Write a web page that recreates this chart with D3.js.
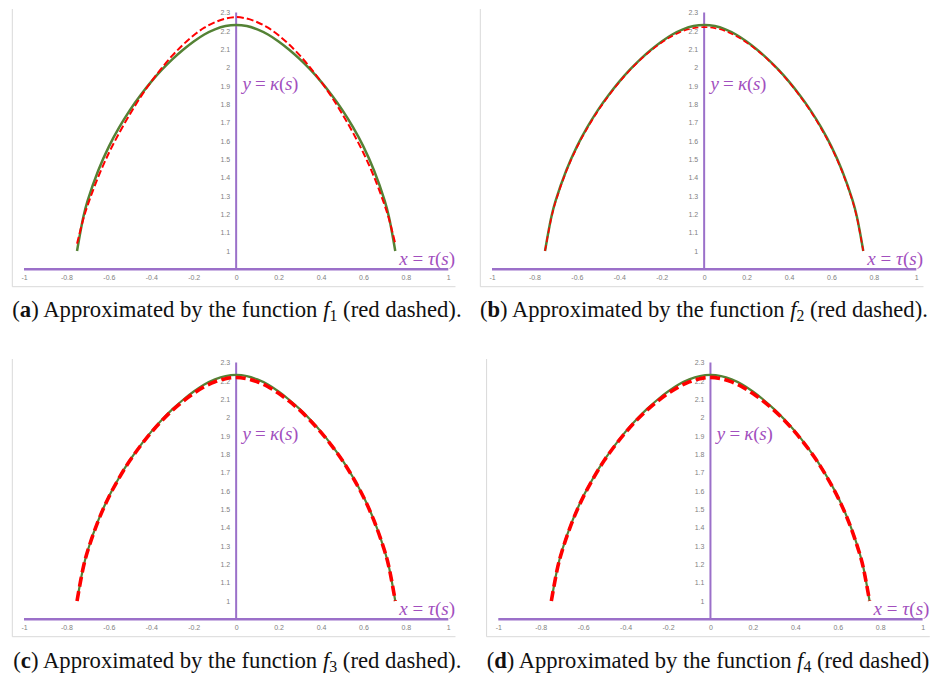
<!DOCTYPE html>
<html>
<head>
<meta charset="utf-8">
<script src="https://cdn.jsdelivr.net/npm/d3@7"></script>
<style>
  html, body { margin: 0; padding: 0; background: #fff; }
  svg { display: block; }
</style>
</head>
<body>
<svg id="fig" width="930" height="677"></svg>
<script>
// Parameter values s sampled along the curve: x = tau(s)
const tau = [-0.75,-0.72,-0.70,-0.65,-0.60,-0.55,-0.50,-0.45,-0.40,-0.35,-0.30,-0.25,-0.20,-0.15,-0.10,-0.05,0,
             0.05,0.10,0.15,0.20,0.25,0.30,0.35,0.40,0.45,0.50,0.55,0.60,0.65,0.70,0.72,0.75];

// Exact curve y = kappa(s) (green)
const kappa = [1.000,1.186,1.274,1.439,1.569,1.676,1.769,1.850,1.923,1.988,2.046,2.097,2.142,2.180,2.208,2.226,2.232,
               2.226,2.208,2.180,2.142,2.097,2.046,1.988,1.923,1.850,1.769,1.676,1.569,1.439,1.274,1.186,1.000];

// Approximations (red dashed)
const f1 = [1.040,1.176,1.249,1.404,1.534,1.646,1.747,1.840,1.923,1.998,2.066,2.125,2.176,2.217,2.247,2.267,2.275,
            2.267,2.247,2.217,2.176,2.125,2.066,1.998,1.923,1.840,1.747,1.646,1.534,1.404,1.249,1.176,1.040];
const f2 = [1.000,1.182,1.269,1.433,1.563,1.670,1.764,1.846,1.920,1.985,2.043,2.093,2.136,2.172,2.199,2.215,2.220,
            2.215,2.199,2.172,2.136,2.093,2.043,1.985,1.920,1.846,1.764,1.670,1.563,1.433,1.269,1.182,1.000];
const f3 = [1.000,1.186,1.272,1.437,1.567,1.674,1.767,1.847,1.919,1.983,2.040,2.089,2.132,2.168,2.195,2.212,2.218,
            2.212,2.195,2.168,2.132,2.089,2.040,1.983,1.919,1.847,1.767,1.674,1.567,1.437,1.272,1.186,1.000];
const f4 = [1.000,1.184,1.270,1.436,1.566,1.673,1.767,1.847,1.919,1.983,2.039,2.088,2.131,2.167,2.194,2.212,2.219,
            2.212,2.194,2.167,2.131,2.088,2.039,1.983,1.919,1.847,1.767,1.673,1.566,1.436,1.270,1.184,1.000];

// Axis ticks
const xTicks = [-1,-0.8,-0.6,-0.4,-0.2,0,0.2,0.4,0.6,0.8,1];
const xTickLabels = ["-1","-0.8","-0.6","-0.4","-0.2","0","0.2","0.4","0.6","0.8","1"];
const yTicks = [1,1.1,1.2,1.3,1.4,1.5,1.6,1.7,1.8,1.9,2,2.1,2.2,2.3];
const yTickLabels = ["1","1.1","1.2","1.3","1.4","1.5","1.6","1.7","1.8","1.9","2","2.1","2.2","2.3"];

// Sub-figure letters and approximating functions
const panelLetters = ["a","b","c","d"];
const panelSeries = [f1, f2, f3, f4];
const panelIndex = ["1","2","3","4"];

// Layout and styling of each sub-figure
const layout = [
  {dx: 0,     dy: 0,   capX: 12.3,  capW: 449.5, capY: 316.5, end: ".",  red: {w: 2.0, dash: "7,3"}},
  {dx: 468,   dy: 0,   capX: 480,   capW: 448,   capY: 316.5, end: ".",  red: {w: 1.6, dash: "6,3"}},
  {dx: 0,     dy: 350, capX: 13.3,  capW: 448.3, capY: 667.5, end: ".",  red: {w: 3.6, dash: "10,4.5"}},
  {dx: 474.3, dy: 350, capX: 486.7, capW: 442.8, capY: 667.5, end: "",   red: {w: 3.6, dash: "10,4.5"}}
];

const AXIS = "#9b70c9";
const LABEL = "#a24fbe";
const GREEN = "#548235";
const RED = "#ff0000";
const TICK = "#7f7f7f";

const svg = d3.select("#fig");
svg.append("rect").attr("width", 930).attr("height", 677).attr("fill", "#fff");

const x = d3.scaleLinear().domain([-1, 1]).range([24, 448.3]);
const y = d3.scaleLinear().domain([0.9, 2.3]).range([269.3, 12.5]);

const line = d3.line()
  .x((d, i) => x(tau[i]))
  .y(d => y(d))
  .curve(d3.curveCatmullRom.alpha(0.5));

function fitWidth(sel, target) {
  const w = sel.node().getBBox().width;
  const f = parseFloat(sel.attr("font-size"));
  sel.attr("font-size", f * target / w);
}

function mathLabel(g, xPos, yPos, anchor, letter, fn) {
  const t = g.append("text")
    .attr("x", xPos).attr("y", yPos)
    .attr("text-anchor", anchor)
    .attr("font-family", "'Liberation Serif','DejaVu Serif',serif")
    .attr("font-size", 19).attr("fill", LABEL)
    .attr("textLength", 56).attr("lengthAdjust", "spacing");
  t.append("tspan").attr("font-style", "italic").text(letter);
  t.append("tspan").text(" = ");
  t.append("tspan").attr("font-style", "italic").text(fn);
  t.append("tspan").text("(");
  t.append("tspan").attr("font-style", "italic").text("s");
  t.append("tspan").text(")");
  return t;
}

panelLetters.forEach((letter, p) => {
  const L = layout[p];
  const g = svg.append("g").attr("transform", `translate(${L.dx},${L.dy})`);

  // chart frame (left and bottom edges)
  g.append("path")
    .attr("d", `M12.3,9 V286.7 H455.5`)
    .attr("fill", "none")
    .attr("stroke", "#d9d9d9")
    .attr("stroke-width", 1);

  // y tick labels
  const ya = g.append("g")
    .attr("transform", `translate(${x(0)},0)`)
    .call(d3.axisLeft(y).tickValues(yTicks).tickSize(0).tickPadding(6)
      .tickFormat((d, i) => yTickLabels[i]));
  ya.select(".domain").remove();
  ya.selectAll("text").attr("fill", TICK).attr("font-size", 7)
    .attr("font-family", "'Liberation Sans Narrow','Liberation Sans',sans-serif");

  // x tick labels
  const xa = g.append("g")
    .attr("transform", `translate(0,${y(0.9)})`)
    .call(d3.axisBottom(x).tickValues(xTicks).tickSize(0).tickPadding(6)
      .tickFormat((d, i) => xTickLabels[i]));
  xa.select(".domain").remove();
  xa.selectAll("text").attr("fill", TICK).attr("font-size", 7)
    .attr("font-family", "'Liberation Sans Narrow','Liberation Sans',sans-serif");

  // purple axes
  g.append("line")
    .attr("x1", x(-1)).attr("x2", x(1))
    .attr("y1", y(0.9)).attr("y2", y(0.9))
    .attr("stroke", AXIS).attr("stroke-width", 2.4);
  g.append("line")
    .attr("x1", x(0)).attr("x2", x(0))
    .attr("y1", y(2.3)).attr("y2", y(0.9))
    .attr("stroke", AXIS).attr("stroke-width", 2);

  // axis annotations
  mathLabel(g, x(0) + 6.3, 90, "start", "y", "κ");
  mathLabel(g, x(0) + 219, 264.5, "end", "x", "τ");

  // exact curve
  g.append("path")
    .attr("d", line(kappa))
    .attr("fill", "none")
    .attr("stroke", GREEN)
    .attr("stroke-width", p < 2 ? 2.5 : 2.2);

  // approximation
  g.append("path")
    .attr("d", line(panelSeries[p]))
    .attr("fill", "none")
    .attr("stroke", RED)
    .attr("stroke-width", L.red.w)
    .attr("stroke-dasharray", L.red.dash);

  // caption
  const cap = svg.append("text")
    .attr("x", L.capX).attr("y", L.capY)
    .attr("font-family", "'Liberation Serif','DejaVu Serif',serif")
    .attr("font-size", 21).attr("fill", "#111");
  cap.append("tspan").text("(");
  cap.append("tspan").attr("font-weight", "bold").text(letter);
  cap.append("tspan").text(") Approximated by the function ");
  cap.append("tspan").attr("font-style", "italic").text("f");
  cap.append("tspan").attr("font-size", "70%").attr("dy", "0.3em").text(panelIndex[p]);
  cap.append("tspan").attr("dy", "-0.21em").text(" (red dashed)" + L.end);
  fitWidth(cap, L.capW);
});
</script>
</body>
</html>
